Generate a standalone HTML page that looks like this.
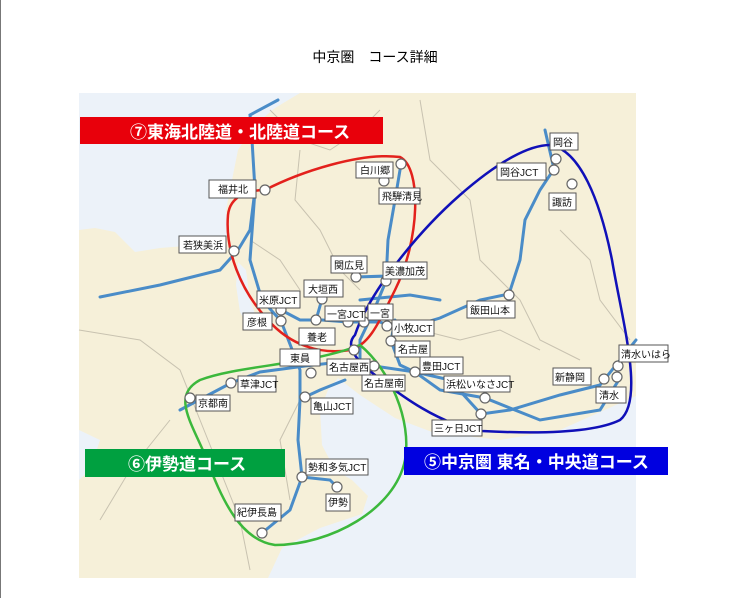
<!DOCTYPE html>
<html><head><meta charset="utf-8"><style>
html,body{margin:0;padding:0;background:#fff;}
body{width:750px;height:598px;position:relative;overflow:hidden;font-family:"Liberation Sans","Noto Sans CJK JP",sans-serif;}
.bl{position:absolute;left:0;top:0;width:1px;height:598px;background:#777;}
.title{position:absolute;left:0;width:750px;top:47px;text-align:center;font-size:14px;color:#000;}
svg{position:absolute;left:0;top:0;}
</style></head><body>
<div class="bl"></div>
<div class="title">中京圏　コース詳細</div>
<svg width="750" height="598" viewBox="0 0 750 598" font-family="Liberation Sans, Noto Sans CJK JP, sans-serif">
<rect x="79" y="93" width="557" height="485" fill="#f6f0d9"/>
<path d="M79 93 L300 93 L275 108 L255 125 L238 150 L232 180 L226 210 L228 235 L210 250 L185 246 L160 248 L135 252 L115 232 L95 228 L79 230 Z" fill="#ecf2f9"/>
<path d="M238 262 L246 270 L250 300 L258 322 L250 330 L240 312 L236 285 Z" fill="#ecf2f9"/>
<path d="M338 378 L360 395 L395 418 L432 432 L500 440 L560 430 L600 412 L636 396 L636 578 L268 578 L282 548 L320 528 L362 514 L368 496 L352 480 L335 470 L322 445 L320 410 L328 390 Z" fill="#ecf2f9"/>
<path d="M79 430 L100 440 L90 470 L79 480 Z" fill="#ecf2f9"/>
<g fill="none" stroke="#c8c2b0" stroke-width="1">
<path d="M270 110 L300 140 L330 150 L360 130 L380 110"/>
<path d="M300 150 L295 200 L320 230 L340 270 L360 290"/>
<path d="M420 100 L430 160 L470 200 L480 260 L520 300 L540 340 L580 360"/>
<path d="M560 230 L590 260 L600 300 L630 340"/>
<path d="M250 240 L280 260 L300 290"/>
<path d="M79 330 L140 340 L180 370 L200 420 L220 470 L240 520 L250 570"/>
<path d="M170 420 L130 470 L100 520"/>
<path d="M300 400 L280 440 L290 500"/>
<path d="M420 330 L460 340 L500 330 L540 350"/>
</g>
<g fill="none" stroke="#4a8cc8" stroke-width="3" stroke-linecap="round">
<path d="M278 100 L250 115 L252 140 L255 190 L250 230 L238 250 L220 270 L160 285 L100 297"/>
<path d="M255 190 L250 260 L262 300 L281 321 L300 370 L300 400 L298 440 L302 477 L290 510 L262 533"/>
<path d="M281 310 L300 320 L322 320 L348 322 L380 322 L400 330 L440 318 L480 300 L509 294 L520 260 L525 220 L540 190 L554 169 L545 130"/>
<path d="M401 164 L395 200 L388 240 L386 281 L372 315 L360 340 L360 365"/>
<path d="M356 277 L420 275"/>
<path d="M395 320 L391 341 L400 365 L415 372 L440 390 L485 398 L540 420 L600 410 L620 378"/>
<path d="M374 366 L415 372 L450 380 L481 414 L510 410 L560 395 L600 385 L620 360 L636 340"/>
<path d="M180 410 L231 383 L260 372 L305 366 L340 362 L374 366"/>
<path d="M305 397 L320 390 L345 380"/>
<path d="M302 477 L330 480 L337 487"/>
<path d="M360 300 L410 295 L440 300"/>
<path d="M322 299 L316 320"/>
</g>
<g fill="none" stroke-width="2.5">
<path d="M265 190 C300 172 360 152 400 157 C422 168 420 240 395 290 C380 320 370 345 350 350 C320 355 290 345 268 320 C240 290 225 250 228 215 C230 195 250 190 265 190 Z" stroke="#e3211c"/>
<path d="M355 335 C370 290 420 230 460 195 C500 160 530 145 550 145 C580 150 600 200 612 260 C622 320 645 400 620 420 C590 435 520 433 482 431 C440 425 400 395 375 375 C355 360 345 345 355 335 Z" stroke="#1010b8"/>
<path d="M360 345 C390 370 412 420 405 460 C395 510 330 545 275 545 C240 540 222 500 205 455 C190 420 172 395 200 380 C240 365 310 365 360 345 Z" stroke="#3cb83c"/>
</g>
<g fill="#fff" stroke="#666" stroke-width="1.2">
<circle cx="401" cy="164" r="5"/><circle cx="384" cy="181" r="5"/><circle cx="265" cy="190" r="5"/><circle cx="234" cy="251" r="5"/>
<circle cx="356" cy="277" r="5"/><circle cx="386" cy="281" r="5"/><circle cx="322" cy="299" r="5"/><circle cx="281" cy="310" r="5"/>
<circle cx="281" cy="321" r="5"/><circle cx="316" cy="320" r="5"/><circle cx="348" cy="322" r="5"/><circle cx="364" cy="322" r="5"/>
<circle cx="387" cy="326" r="5"/><circle cx="391" cy="341" r="5"/><circle cx="374" cy="366" r="5"/><circle cx="354" cy="350" r="5"/>
<circle cx="415" cy="372" r="5"/><circle cx="485" cy="398" r="5"/><circle cx="481" cy="414" r="5"/><circle cx="231" cy="383" r="5"/>
<circle cx="190" cy="398" r="5"/><circle cx="305" cy="397" r="5"/><circle cx="311" cy="373" r="5"/><circle cx="302" cy="477" r="5"/>
<circle cx="337" cy="487" r="5"/><circle cx="262" cy="533" r="5"/><circle cx="509" cy="295" r="5"/><circle cx="556" cy="159" r="5"/>
<circle cx="554" cy="170" r="5"/><circle cx="572" cy="184" r="5"/><circle cx="618" cy="366" r="5"/><circle cx="617" cy="377" r="5"/><circle cx="604" cy="379" r="5"/>
</g>
<g font-size="10" fill="#111">
<g fill="#fff" stroke="#555" stroke-width="1">
<rect x="356" y="162" width="37" height="16"/><rect x="379" y="188" width="41" height="16"/><rect x="209" y="180" width="47" height="18"/>
<rect x="179" y="236" width="47" height="17"/><rect x="331" y="256" width="36" height="17"/><rect x="383" y="262" width="44" height="17"/>
<rect x="304" y="280" width="39" height="17"/><rect x="257" y="291" width="43" height="17"/><rect x="243" y="313" width="29" height="17"/>
<rect x="325" y="306" width="40" height="15"/><rect x="368" y="304" width="25" height="16"/><rect x="299" y="328" width="36" height="17"/>
<rect x="392" y="320" width="42" height="16"/><rect x="395" y="341" width="35" height="16"/><rect x="280" y="349" width="40" height="17"/>
<rect x="327" y="359" width="43" height="16"/><rect x="362" y="375" width="43" height="16"/><rect x="420" y="357" width="43" height="17"/>
<rect x="444" y="376" width="66" height="16"/><rect x="432" y="420" width="50" height="16"/><rect x="238" y="376" width="38" height="16"/>
<rect x="196" y="395" width="34" height="16"/><rect x="311" y="398" width="42" height="16"/><rect x="306" y="459" width="62" height="16"/>
<rect x="326" y="494" width="24" height="17"/><rect x="235" y="504" width="46" height="17"/><rect x="467" y="301" width="48" height="17"/>
<rect x="550" y="133" width="28" height="17"/><rect x="497" y="163" width="49" height="17"/><rect x="549" y="193" width="27" height="17"/>
<rect x="619" y="345" width="49" height="17"/><rect x="553" y="368" width="38" height="17"/><rect x="596" y="387" width="30" height="16"/>
</g>
<text x="360" y="174">白川郷</text><text x="382" y="200">飛騨清見</text><text x="218" y="193">福井北</text>
<text x="183" y="249">若狭美浜</text><text x="334" y="269">関広見</text><text x="385" y="275">美濃加茂</text>
<text x="308" y="293">大垣西</text><text x="259" y="304">米原JCT</text><text x="247" y="326">彦根</text>
<text x="327" y="318">一宮JCT</text><text x="370" y="317">一宮</text><text x="307" y="341">養老</text>
<text x="394" y="332">小牧JCT</text><text x="398" y="353">名古屋</text><text x="290" y="362">東員</text>
<text x="329" y="371">名古屋西</text><text x="364" y="387">名古屋南</text><text x="422" y="370">豊田JCT</text>
<text x="446" y="388">浜松いなさJCT</text><text x="434" y="432">三ヶ日JCT</text><text x="240" y="388">草津JCT</text>
<text x="198" y="407">京都南</text><text x="313" y="410">亀山JCT</text><text x="308" y="471">勢和多気JCT</text>
<text x="328" y="506">伊勢</text><text x="237" y="516">紀伊長島</text><text x="470" y="314">飯田山本</text>
<text x="553" y="146">岡谷</text><text x="500" y="176">岡谷JCT</text><text x="552" y="206">諏訪</text>
<text x="621" y="358">清水いはら</text><text x="555" y="381">新静岡</text><text x="599" y="399">清水</text>
</g>
<rect x="80" y="117" width="303" height="27" fill="#e8000b"/>
<text x="130" y="138" font-size="17" font-weight="bold" fill="#fff">⑦東海北陸道・北陸道コース</text>
<rect x="85" y="449" width="200" height="28" fill="#00a040"/>
<text x="128" y="470" font-size="17" font-weight="bold" fill="#fff">⑥伊勢道コース</text>
<rect x="404" y="447" width="264" height="28" fill="#0000e0"/>
<text x="424" y="468" font-size="17" font-weight="bold" fill="#fff">⑤中京圏 東名・中央道コース</text>
</svg>
</body></html>
